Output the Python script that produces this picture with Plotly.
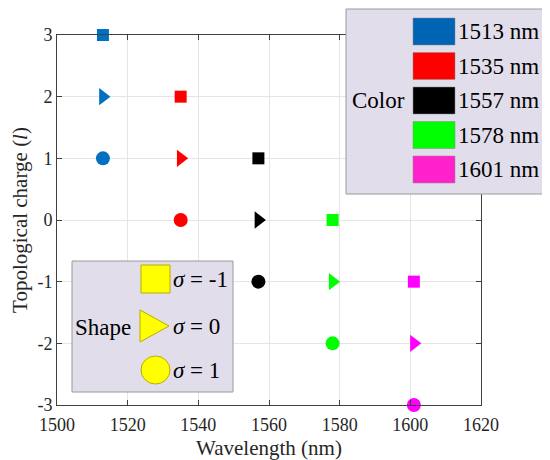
import plotly.graph_objects as go

# ---- data ----
wavelengths = [1513, 1535, 1557, 1578, 1601]
wl_labels = ["1513 nm", "1535 nm", "1557 nm", "1578 nm", "1601 nm"]
colors = ["#0070C0", "#FF0000", "#000000", "#00FF00", "#FF00FF"]
swatch_colors = ["#0064B4", "#FF0000", "#000000", "#00FF00", "#FF22CC"]
charge_sigma_m1 = [3, 2, 1, 0, -1]   # squares
charge_sigma_0 = [2, 1, 0, -1, -2]   # triangles
charge_sigma_p1 = [1, 0, -1, -2, -3] # circles
sigma_labels = ["<i>σ</i> = -1", "<i>σ</i> = 0", "<i>σ</i> = 1"]
x_ticks = [1500, 1520, 1540, 1560, 1580, 1600, 1620]
y_ticks = [-3, -2, -1, 0, 1, 2, 3]
y_tick_text = ["-3", "-2", "-1", "0", "1", "2", "3"]

FONT = "Liberation Serif"
OFF = 8  # page body margin
W, H = 550 - OFF, 460 - OFF
L, R, T, B = 57, 481, 35, 405  # plot area in window pixels

def px(x):
    return (x - L) / (R - L)

def py(y):
    return (B - y) / (B - T)

fig = go.Figure()
fig.add_trace(go.Scatter(x=wavelengths, y=charge_sigma_m1, mode="markers",
                         marker=dict(symbol="square", size=12, color=colors),
                         cliponaxis=False, showlegend=False))
fig.add_trace(go.Scatter(x=wavelengths, y=charge_sigma_0, mode="markers",
                         marker=dict(symbol="triangle-right", size=15, color=colors),
                         cliponaxis=False, showlegend=False))
fig.add_trace(go.Scatter(x=wavelengths, y=charge_sigma_p1, mode="markers",
                         marker=dict(symbol="circle", size=14, color=colors),
                         cliponaxis=False, showlegend=False))

shapes = []
annotations = []
BOX_FILL = "#E2DDEB"
BOX_LINE = "#9A9A9A"
LEG_SIZE = 23

# Color legend box
shapes.append(dict(type="rect", xref="paper", yref="paper", layer="above",
                   x0=px(346), x1=px(548), y0=py(194), y1=py(9),
                   fillcolor=BOX_FILL, line=dict(color=BOX_LINE, width=1)))
tops = [18, 52.5, 87, 121.5, 156]
for top, c, lab in zip(tops, swatch_colors, wl_labels):
    shapes.append(dict(type="rect", xref="paper", yref="paper", layer="above",
                       x0=px(413), x1=px(455), y0=py(top + 27), y1=py(top),
                       fillcolor=c, line=dict(color="#888888", width=0.5)))
    annotations.append(dict(xref="paper", yref="paper", x=px(456), y=py(top + 13.5),
                            text=lab, showarrow=False, xanchor="left", yanchor="middle",
                            font=dict(family=FONT, size=LEG_SIZE, color="#000000")))
annotations.append(dict(xref="paper", yref="paper", x=px(350), y=py(100.5),
                        text="Color", showarrow=False, xanchor="left", yanchor="middle",
                        font=dict(family=FONT, size=LEG_SIZE, color="#000000")))

# Shape legend box
YEL = "#FFFF00"
YEL_LINE = "#B5AE00"
shapes.append(dict(type="rect", xref="paper", yref="paper", layer="above",
                   x0=px(72), x1=px(233), y0=py(392), y1=py(261),
                   fillcolor=BOX_FILL, line=dict(color=BOX_LINE, width=1)))
shapes.append(dict(type="rect", xref="paper", yref="paper", layer="above",
                   x0=px(141), x1=px(170), y0=py(293), y1=py(265),
                   fillcolor=YEL, line=dict(color=YEL_LINE, width=1)))
shapes.append(dict(type="path", xref="paper", yref="paper", layer="above",
                   path=f"M {px(140)} {py(310)} L {px(169)} {py(326)} L {px(140)} {py(342)} Z",
                   fillcolor=YEL, line=dict(color=YEL_LINE, width=1)))
shapes.append(dict(type="circle", xref="paper", yref="paper", layer="above",
                   x0=px(141), x1=px(170), y0=py(384), y1=py(356),
                   fillcolor=YEL, line=dict(color=YEL_LINE, width=1)))
for yc, lab in zip([279, 326, 370], sigma_labels):
    annotations.append(dict(xref="paper", yref="paper", x=px(171), y=py(yc),
                            text=lab, showarrow=False, xanchor="left", yanchor="middle",
                            font=dict(family=FONT, size=LEG_SIZE, color="#000000")))
annotations.append(dict(xref="paper", yref="paper", x=px(73), y=py(327),
                        text="Shape", showarrow=False, xanchor="left", yanchor="middle",
                        font=dict(family=FONT, size=LEG_SIZE, color="#000000")))

axis_common = dict(showline=True, linecolor="#404040", linewidth=1, mirror="ticks",
                   ticks="inside", ticklen=5, tickcolor="#404040", automargin=False,
                   showgrid=True, gridcolor="#E5E5E5", gridwidth=1, zeroline=False,
                   tickfont=dict(family=FONT, size=18, color="#262626"))

fig.update_layout(
    width=W, height=H,
    margin=dict(l=L - OFF, r=550 - R, t=T - OFF, b=460 - B),
    paper_bgcolor="white", plot_bgcolor="white",
    font=dict(family=FONT, size=18, color="#262626"),
    showlegend=False,
    shapes=shapes, annotations=annotations,
    xaxis=dict(range=[1500, 1620], tickvals=x_ticks, ticklabelstandoff=3,
               title=dict(text="Wavelength (nm)", standoff=9,
                          font=dict(family=FONT, size=21, color="#262626")),
               **axis_common),
    yaxis=dict(range=[-3, 3], tickvals=y_ticks, ticktext=y_tick_text,
               title=dict(text="Topological charge (<i>l</i>)", standoff=4,
                          font=dict(family=FONT, size=21, color="#262626")),
               **axis_common),
)

fig.write_html("out.html")
